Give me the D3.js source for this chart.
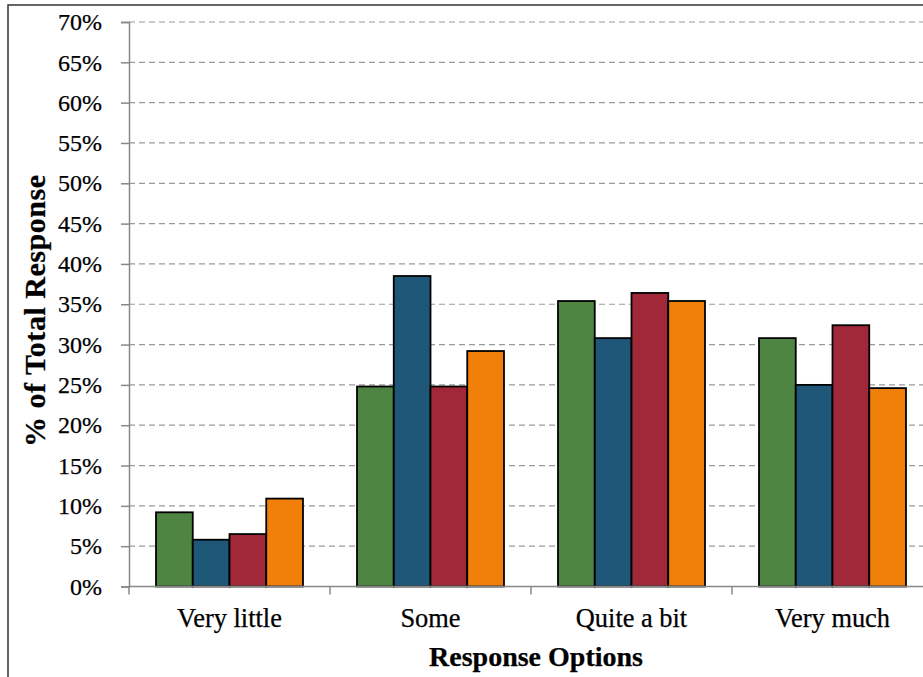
<!DOCTYPE html>
<html>
<head>
<meta charset="utf-8">
<script src="https://cdn.jsdelivr.net/npm/d3@7/dist/d3.min.js"></script>
<style>
  html, body { margin: 0; padding: 0; background: #fff; }
  svg { display: block; }
  text { font-family: "Liberation Serif", "Times New Roman", serif; fill: #000; stroke: #000; stroke-width: 0.25px; }
</style>
</head>
<body>
<svg id="chart" width="923" height="677"></svg>
<script>
// Response categories along the x axis
const categories = ["Very little", "Some", "Quite a bit", "Very much"];
// Four survey groups, % of total response per category
const seriesNames = ["Group 1", "Group 2", "Group 3", "Group 4"];
const group1 = [9.2, 24.8, 35.4, 30.8];
const group2 = [5.8, 38.5, 30.8, 25.0];
const group3 = [6.5, 24.8, 36.4, 32.4];
const group4 = [10.9, 29.2, 35.4, 24.6];
const seriesColors = ["#4e8542", "#1f5779", "#a02838", "#f0800a"];
const yTicks = [0, 5, 10, 15, 20, 25, 30, 35, 40, 45, 50, 55, 60, 65, 70];

const series = [group1, group2, group3, group4];
const svg = d3.select("#chart");

// Outer chart frame
svg.append("rect")
  .attr("x", 8).attr("y", 5)
  .attr("width", 1000).attr("height", 1000)
  .attr("fill", "none").attr("stroke", "#333").attr("stroke-width", 1.5);

const plot = { left: 129, right: 933, top: 22, bottom: 586.5 };

const x = d3.scaleBand().domain(categories)
  .range([plot.left, plot.right]).paddingInner(0).paddingOuter(0);
const xInner = d3.scaleBand().domain(seriesNames)
  .range([0, x.bandwidth()]).paddingInner(0).paddingOuter(0.735);
const y = d3.scaleLinear().domain([0, 70]).range([plot.bottom, plot.top]);

// Dashed horizontal gridlines
svg.append("g").selectAll("line")
  .data(yTicks.filter(t => t > 0))
  .join("line")
  .attr("x1", plot.left).attr("x2", plot.right)
  .attr("y1", d => y(d)).attr("y2", d => y(d))
  .attr("stroke", "#9a9a9a").attr("stroke-width", 1.2)
  .attr("stroke-dasharray", "6,4");

// Bars
const groups = svg.append("g").selectAll("g")
  .data(categories)
  .join("g")
  .attr("transform", d => `translate(${x(d)},0)`);

groups.selectAll("rect")
  .data((c, ci) => seriesNames.map((s, si) => ({ s, si, v: series[si][ci] })))
  .join("rect")
  .attr("x", d => xInner(d.s))
  .attr("width", xInner.bandwidth())
  .attr("y", d => y(d.v))
  .attr("height", d => y(0) - y(d.v))
  .attr("fill", d => seriesColors[d.si])
  .attr("stroke", "#000").attr("stroke-width", 1.8);

// Y axis
const yAxis = d3.axisLeft(y).tickValues(yTicks)
  .tickFormat(d => d + "%").tickSize(8).tickPadding(19);
const yg = svg.append("g").attr("transform", `translate(${plot.left},0)`).call(yAxis);
yg.attr("font-size", null).attr("font-family", null);
yg.select(".domain").attr("stroke", "#888").attr("stroke-width", 1.5);
yg.selectAll(".tick line").attr("stroke", "#888").attr("stroke-width", 1.5);
yg.selectAll(".tick text").attr("font-size", 24).attr("fill", "#000");

// X axis line with band-boundary ticks
const xg = svg.append("g");
xg.append("line")
  .attr("x1", plot.left).attr("x2", plot.right)
  .attr("y1", plot.bottom).attr("y2", plot.bottom)
  .attr("stroke", "#888").attr("stroke-width", 1.5);
xg.selectAll("line.tk")
  .data(categories)
  .join("line").attr("class", "tk")
  .attr("x1", d => x(d)).attr("x2", d => x(d))
  .attr("y1", plot.bottom).attr("y2", plot.bottom + 8)
  .attr("stroke", "#888").attr("stroke-width", 1.5);
xg.selectAll("text")
  .data(categories)
  .join("text")
  .attr("x", d => x(d) + x.bandwidth() / 2)
  .attr("y", 627)
  .attr("text-anchor", "middle")
  .attr("font-size", 26.4)
  .text(d => d);

// Axis titles
svg.append("text")
  .attr("x", (plot.left + plot.right) / 2 + 5).attr("y", 666)
  .attr("text-anchor", "middle")
  .attr("font-size", 28).attr("font-weight", "bold")
  .text("Response Options");

svg.append("text")
  .attr("transform", `translate(45,311) rotate(-90)`)
  .attr("text-anchor", "middle")
  .attr("font-size", 30).attr("font-weight", "bold")
  .attr("textLength", 272).attr("lengthAdjust", "spacing")
  .text("% of Total Response");
</script>
</body>
</html>
